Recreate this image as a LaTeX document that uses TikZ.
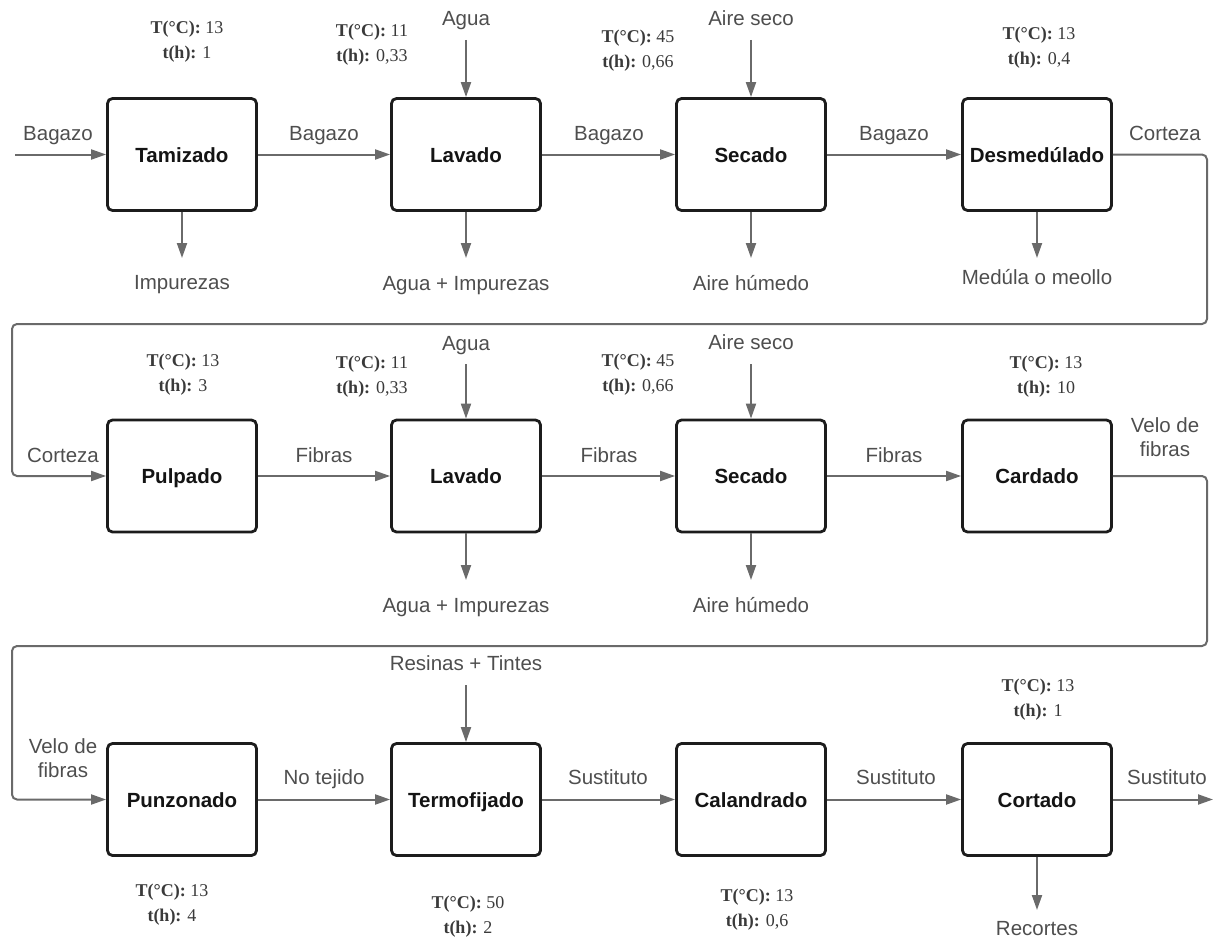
\documentclass[tikz,border=0pt]{standalone}
\usepackage{fontspec}
\setmainfont{Liberation Sans}
\newfontfamily\condfont{Liberation Serif}
\usetikzlibrary{arrows.meta}
\definecolor{linegray}{HTML}{6A6A6A}
\definecolor{labelgray}{HTML}{4E4E4E}
\definecolor{boxline}{HTML}{1C1C1C}
\definecolor{condgray}{HTML}{3A3A3A}
\newcommand{\cond}[2]{\textbf{T(°C):} #1\\\textbf{t(h):} #2}
\begin{document}
\begin{tikzpicture}[x=1pt,y=-1pt,
  proc/.style={draw=boxline, line width=2.8pt, rounded corners=5pt,
    minimum width=149pt, minimum height=112pt, inner sep=0pt,
    text height=15pt, text depth=0pt,
    font=\fontsize{20.5}{24}\selectfont\bfseries, text=black!92},
  flow/.style={draw=linegray, line width=2pt, -{Triangle[length=15pt,width=10pt]}},
  loopflow/.style={flow, rounded corners=5pt},
  lbl/.style={text=labelgray, font=\fontsize{20.5}{24}\selectfont, inner sep=0pt, anchor=base},
  lbl2/.style={text=labelgray, font=\fontsize{20.5}{24}\selectfont, inner sep=0pt, anchor=north, align=center},
  condlbl/.style={text=condgray, font=\condfont\fontsize{18}{25.5}\selectfont, inner sep=0pt, anchor=north, align=center}]
\useasboundingbox (0,0) rectangle (1219,942);

% ---------- process boxes ----------
\node[proc] (tam) at (182,154.5) {Tamizado};
\node[proc] (lav) at (466,154.5) {Lavado};
\node[proc] (sec) at (751,154.5) {Secado};
\node[proc] (des) at (1037,154.5) {Desmedúlado};

\node[proc] (pul) at (182,476) {Pulpado};
\node[proc] (lavb) at (466,476) {Lavado};
\node[proc] (secb) at (751,476) {Secado};
\node[proc] (car) at (1037,476) {Cardado};

\node[proc] (pun) at (182,799.5) {Punzonado};
\node[proc] (ter) at (466,799.5) {Termofijado};
\node[proc] (cal) at (751,799.5) {Calandrado};
\node[proc] (cor) at (1037,799.5) {Cortado};

% ---------- operating conditions ----------
\node[condlbl] (ctam) at (187,20.5) {\cond{13}{1}};
\node[condlbl] (clav) at (372,23.5) {\cond{11}{0,33}};
\node[condlbl] (csec) at (638,29.5) {\cond{45}{0,66}};
\node[condlbl] (cdes) at (1039,26.5) {\cond{13}{0,4}};
\node[condlbl] (cpul) at (183,353.5) {\cond{13}{3}};
\node[condlbl] (clavb) at (372,355.5) {\cond{11}{0,33}};
\node[condlbl] (csecb) at (638,353.5) {\cond{45}{0,66}};
\node[condlbl] (ccar) at (1046,355.5) {\cond{13}{10}};
\node[condlbl] (cpun) at (172,883.5) {\cond{13}{4}};
\node[condlbl] (cter) at (468,895.5) {\cond{50}{2}};
\node[condlbl] (ccal) at (757,888.5) {\cond{13}{0,6}};
\node[condlbl] (ccor) at (1038,678.5) {\cond{13}{1}};

% ---------- row 1 ----------
\coordinate (in1) at (15,154.5);
\node[lbl] (l-in1) at (58,140) {Bagazo};
\draw[flow] (in1) -- (tam.west);
\draw[flow] (tam.east) -- (lav.west);
\node[lbl] (l-tl) at (324,140) {Bagazo};
\draw[flow] (lav.east) -- (sec.west);
\node[lbl] (l-ls) at (609,140) {Bagazo};
\draw[flow] (sec.east) -- (des.west);
\node[lbl] (l-sd) at (894,140) {Bagazo};
\node[lbl] (l-dc) at (1165,140) {Corteza};

\node[lbl] (agua1) at (466,26) {Agua};
\coordinate (agua1a) at (466,40);
\draw[flow] (agua1a) -- (lav.north);
\node[lbl] (aire1) at (751,26) {Aire seco};
\coordinate (aire1a) at (751,40);
\draw[flow] (aire1a) -- (sec.north);

\coordinate (imp1a) at (182,258);
\draw[flow] (tam.south) -- (imp1a);
\node[lbl] (imp1) at (182,289) {Impurezas};
\coordinate (aimp1a) at (466,258);
\draw[flow] (lav.south) -- (aimp1a);
\node[lbl] (aimp1) at (466,290) {Agua + Impurezas};
\coordinate (hum1a) at (751,258);
\draw[flow] (sec.south) -- (hum1a);
\node[lbl] (hum1) at (751,290) {Aire húmedo};
\coordinate (med1a) at (1037,258);
\draw[flow] (des.south) -- (med1a);
\node[lbl] (med1) at (1037,284) {Medúla o meollo};

% return line to row 2
\coordinate (ra) at (1207,324);
\coordinate (rb) at (12,324);
\draw[loopflow] (des.east) -| (ra) -- (rb) |- (pul.west);
\node[lbl] (l-in2) at (63,462) {Corteza};

% ---------- row 2 ----------
\draw[flow] (pul.east) -- (lavb.west);
\node[lbl] (l-pl) at (324,462) {Fibras};
\draw[flow] (lavb.east) -- (secb.west);
\node[lbl] (l-ls2) at (609,462) {Fibras};
\draw[flow] (secb.east) -- (car.west);
\node[lbl] (l-sc) at (894,462) {Fibras};
\node[lbl2] (l-cv) at (1165,417) {Velo de\\fibras};

\node[lbl] (agua2) at (466,350) {Agua};
\coordinate (agua2a) at (466,364);
\draw[flow] (agua2a) -- (lavb.north);
\node[lbl] (aire2) at (751,349) {Aire seco};
\coordinate (aire2a) at (751,364);
\draw[flow] (aire2a) -- (secb.north);

\coordinate (aimp2a) at (466,580);
\draw[flow] (lavb.south) -- (aimp2a);
\node[lbl] (aimp2) at (466,612) {Agua + Impurezas};
\coordinate (hum2a) at (751,580);
\draw[flow] (secb.south) -- (hum2a);
\node[lbl] (hum2) at (751,612) {Aire húmedo};

% return line to row 3
\coordinate (rc) at (1207,646);
\coordinate (rd) at (12,646);
\draw[loopflow] (car.east) -| (rc) -- (rd) |- (pun.west);
\node[lbl2] (l-in3) at (63,738) {Velo de\\fibras};

% ---------- row 3 ----------
\draw[flow] (pun.east) -- (ter.west);
\node[lbl] (l-pt) at (324,784) {No tejido};
\draw[flow] (ter.east) -- (cal.west);
\node[lbl] (l-tc) at (608,784) {Sustituto};
\draw[flow] (cal.east) -- (cor.west);
\node[lbl] (l-cc) at (896,784) {Sustituto};
\coordinate (out3) at (1213,799.5);
\draw[flow] (cor.east) -- (out3);
\node[lbl] (l-out) at (1167,784) {Sustituto};

\node[lbl] (resin) at (466,670) {Resinas + Tintes};
\coordinate (resina) at (466,685);
\draw[flow] (resina) -- (ter.north);

\coordinate (reca) at (1037,910);
\draw[flow] (cor.south) -- (reca);
\node[lbl] (rec) at (1037,935) {Recortes};
\end{tikzpicture}
\end{document}
